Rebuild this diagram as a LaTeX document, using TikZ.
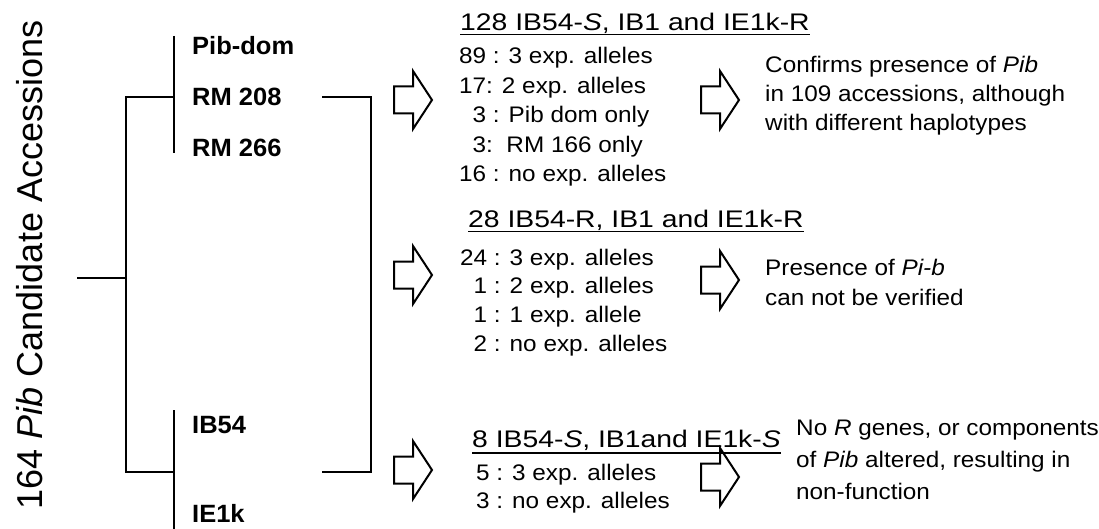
\documentclass[tikz,border=0pt]{standalone}
\usepackage{fontspec}
\setmainfont{Liberation Sans}
\newfontfamily\hdrfont[FakeStretch=1.18]{Liberation Sans}
\newfontfamily\bodyfont[FakeStretch=1.08]{Liberation Sans}
\newfontfamily\lblfont[FakeStretch=1.02]{Liberation Sans}
\newcommand\blockarr[2]{\draw[barrow] (#1,#2-13.5) -- ++(19,0) -- ++(0,-15.5) -- (#1+38,#2) -- (#1+19,#2+29) -- ++(0,-15.5) -- (#1,#2+13.5) -- cycle;}
\begin{document}
\begin{tikzpicture}[x=1pt,y=-1pt,
  tree/.style={line width=2pt, line join=miter},
  uline/.style={line width=1.5pt},
  barrow/.style={draw, line width=2pt, line join=miter},
  lbl/.style={anchor=base west, inner sep=0, font=\lblfont\bfseries\fontsize{25}{30}\selectfont},
  hdr/.style={anchor=base west, inner sep=0, font=\hdrfont\fontsize{24}{28}\selectfont},
  body/.style={anchor=base west, inner sep=0, font=\bodyfont\fontsize{22.5}{#1}\selectfont},
  body/.default=29.4]
\useasboundingbox (0,0) rectangle (1099,529);

% rotated title
\node[anchor=base, rotate=90, inner sep=0, font=\fontsize{36}{40}\selectfont] (title) at (42,265) {164 \textit{Pib} Candidate Accessions};

% tree
\coordinate (root) at (77,278);
\coordinate (mmid) at (126,278);
\coordinate (mtop) at (126,97);
\coordinate (mbot) at (126,472);
\coordinate (utop) at (174,36);
\coordinate (umid) at (174,97);
\coordinate (ubot) at (174,153);
\coordinate (ltop) at (174,410);
\coordinate (lmid) at (174,472);
\coordinate (lbot) at (174,529);
\coordinate (bra) at (322,97);
\coordinate (brb) at (371,97);
\coordinate (brc) at (371,472);
\coordinate (brd) at (322,472);
\draw[tree] (root) -- (mmid);
\draw[tree] (umid) -- (mtop) -- (mbot) -- (lmid);
\draw[tree] (utop) -- (ubot);
\draw[tree] (ltop) -- (lbot);
\draw[tree] (bra) -- (brb) -- (brc) -- (brd);

% labels
\node[lbl] (pibdom) at (192,55) {Pib-dom};
\node[lbl] (rm208) at (192,106) {RM 208};
\node[lbl] (rm266) at (192,157) {RM 266};
\node[lbl] (ib54) at (192,433) {IB54};
\node[lbl] (ie1k) at (192,522) {IE1k};

% block arrows
\blockarr{394}{100}
\blockarr{394}{275}
\blockarr{394}{470}
\blockarr{701}{100}
\blockarr{701}{280}
\blockarr{701}{477}

% headers
\node[hdr] (h1) at (460,31) {128 IB54-\textit{S}, IB1 and IE1k-R};
\node[hdr] (h2) at (468,228) {28 IB54-R, IB1 and IE1k-R};
\node[hdr] (h3) at (472,447) {8 IB54-\textit{S}, IB1and IE1k-\textit{S}};
\draw[uline] ([yshift=-3.5pt]h1.base west) -- ([yshift=-3.5pt]h1.base east);
\draw[uline] ([yshift=-3.5pt]h2.base west) -- ([yshift=-3.5pt]h2.base east);
\draw[uline] ([yshift=-6pt]h3.base west) -- ([yshift=-6pt]h3.base east);

% bodies
\node[body] (b1) at (459,64) {\begin{tabular}[t]{@{}l@{}}89 : 3 exp. alleles\\17: 2 exp. alleles\\\phantom{1}3 : Pib dom only\\\phantom{1}3:\ \ RM 166 only\\16 : no exp. alleles\end{tabular}};
\node[body=28.7] (b2) at (460,265) {\begin{tabular}[t]{@{}l@{}}24 : 3 exp. alleles\\\phantom{1}1 : 2 exp. alleles\\\phantom{1}1 : 1 exp. allele\\\phantom{1}2 : no exp. alleles\end{tabular}};
\node[body=28] (b3) at (476,480) {\begin{tabular}[t]{@{}l@{}}5 : 3 exp. alleles\\3 : no exp. alleles\end{tabular}};

% conclusions
\node[body=29] (r1) at (765,73) {\begin{tabular}[t]{@{}l@{}}Confirms presence of \textit{Pib}\\in 109 accessions, although\\with different haplotypes\end{tabular}};
\node[body=30] (r2) at (765,275) {\begin{tabular}[t]{@{}l@{}}Presence of \textit{Pi-b}\\can not be verified\end{tabular}};
\node[body=32] (r3) at (796,435) {\begin{tabular}[t]{@{}l@{}}No \textit{R} genes, or components\\of \textit{Pib} altered, resulting in\\non-function\end{tabular}};
\end{tikzpicture}
\end{document}
